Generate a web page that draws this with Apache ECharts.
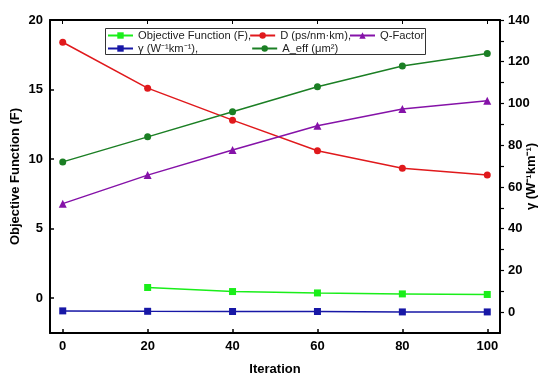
<!DOCTYPE html>
<html>
<head>
<meta charset="utf-8">
<script src="https://cdn.jsdelivr.net/npm/echarts@6/dist/echarts.min.js"></script>
<style>
  html, body { margin: 0; padding: 0; background: #fff; }
  #main { width: 546px; height: 377px; }
</style>
</head>
<body>
<div id="main"></div>
<script>
// data
var iterations = [0, 20, 40, 60, 80, 100];
var objF  = [null, 0.77, 0.48, 0.38, 0.31, 0.27];
var dispD = [18.4, 15.1, 12.8, 10.6, 9.35, 8.85];
var qFactor = [6.8, 8.85, 10.65, 12.4, 13.6, 14.2];
var gammaVals = [0.6, 0.4, 0.3, 0.3, 0.1, 0.1];
var aEff = [9.8, 11.6, 13.4, 15.2, 16.7, 17.6];
var leftTicks = [0, 5, 10, 15, 20];
var rightTicks = [0, 20, 40, 60, 80, 100, 120, 140];
var rightTickMarks = [0, 10, 20, 30, 40, 50, 60, 70, 80, 90, 100, 110, 120, 130, 140];

var FONT = '"Liberation Sans", Arial, sans-serif';
var chart = echarts.init(document.getElementById('main'), null, { renderer: 'canvas' });

function pairs(vals) {
  return iterations.map(function (x, i) { return [x, vals[i]]; });
}

function lineSeries(name, vals, color, symbol, size, yIdx) {
  return {
    name: name,
    type: 'line',
    yAxisIndex: yIdx || 0,
    data: pairs(vals),
    symbol: symbol,
    symbolSize: size,
    connectNulls: false,
    lineStyle: { color: color, width: 1.5 },
    itemStyle: { color: color },
    emphasis: { disabled: true }
  };
}

var axisLabelStyle = { color: '#000', fontFamily: FONT, fontWeight: 'bold', fontSize: 13 };
var frameLine = { show: true, onZero: false, lineStyle: { color: '#000', width: 2 } };
var tickStyle = { color: '#000', width: 1.5 };

var option = {
  animation: false,
  grid: { left: 50, right: 46, top: 20, bottom: 44, containLabel: false, outerBoundsMode: 'none' },
  legend: [
    {
      left: 107, top: 30, padding: 0,
      itemWidth: 25, itemHeight: 8, itemGap: -2,
      data: ['Objective Function (F),', 'D (ps/nm·km),', 'Q-Factor'],
      textStyle: { fontFamily: FONT, fontSize: 11.2, color: '#222' }
    },
    {
      left: 107, top: 43, padding: 0,
      itemWidth: 25, itemHeight: 8, itemGap: 53,
      data: ['γ (W⁻¹km⁻¹),', 'A_eff (μm²)'],
      textStyle: { fontFamily: FONT, fontSize: 11.2, color: '#222' }
    }
  ],
  graphic: [
    {
      type: 'rect',
      shape: { x: 105.5, y: 28.5, width: 320, height: 26 },
      style: { fill: 'none', stroke: '#333', lineWidth: 1 },
      z: 100
    }
  ],
  xAxis: [
    {
      type: 'value',
      min: -3, max: 103,
      name: 'Iteration',
      nameLocation: 'middle',
      nameGap: 30,
      nameMoveOverlap: false,
      nameTextStyle: axisLabelStyle,
      axisLine: frameLine,
      axisTick: { show: true, inside: true, customValues: iterations, length: 4, lineStyle: tickStyle },
      axisLabel: Object.assign({ customValues: iterations, margin: 7 }, axisLabelStyle),
      splitLine: { show: false }
    },
    {
      // top frame line
      type: 'value',
      position: 'top',
      min: -3, max: 103,
      axisLine: frameLine,
      axisTick: { show: true, inside: true, customValues: iterations, length: 4, lineStyle: { color: '#000', width: 1 } },
      axisLabel: { show: false },
      splitLine: { show: false }
    }
  ],
  yAxis: [
    {
      type: 'value',
      min: -2.5, max: 20,
      position: 'left',
      name: 'Objective Function (F)',
      nameLocation: 'middle',
      nameGap: 28,
      nameMoveOverlap: false,
      nameTextStyle: axisLabelStyle,
      axisLine: frameLine,
      axisTick: { show: true, inside: true, customValues: leftTicks, length: 4, lineStyle: tickStyle },
      axisLabel: Object.assign({ customValues: leftTicks, margin: 7 }, axisLabelStyle),
      splitLine: { show: false }
    },
    {
      type: 'value',
      min: -10, max: 140,
      position: 'right',
      name: 'γ (W⁻¹km⁻¹)',
      nameLocation: 'middle',
      nameGap: 25,
      nameRotate: 90,
      nameMoveOverlap: false,
      nameTextStyle: axisLabelStyle,
      axisLine: frameLine,
      axisTick: { show: true, customValues: rightTickMarks, length: 4, lineStyle: { color: '#000', width: 1.2 } },
      axisLabel: Object.assign({ customValues: rightTicks, margin: 8 }, axisLabelStyle),
      splitLine: { show: false }
    }
  ],
  series: [
    lineSeries('Objective Function (F),', objF, '#1aee1a', 'rect', 7),
    lineSeries('D (ps/nm·km),', dispD, '#e0191c', 'circle', 7),
    lineSeries('Q-Factor', qFactor, '#8512a8', 'triangle', 8),
    lineSeries('γ (W⁻¹km⁻¹),', gammaVals, '#1717a6', 'rect', 7, 1),
    lineSeries('A_eff (μm²)', aEff, '#1b7f24', 'circle', 7)
  ]
};

chart.setOption(option);
</script>
</body>
</html>
